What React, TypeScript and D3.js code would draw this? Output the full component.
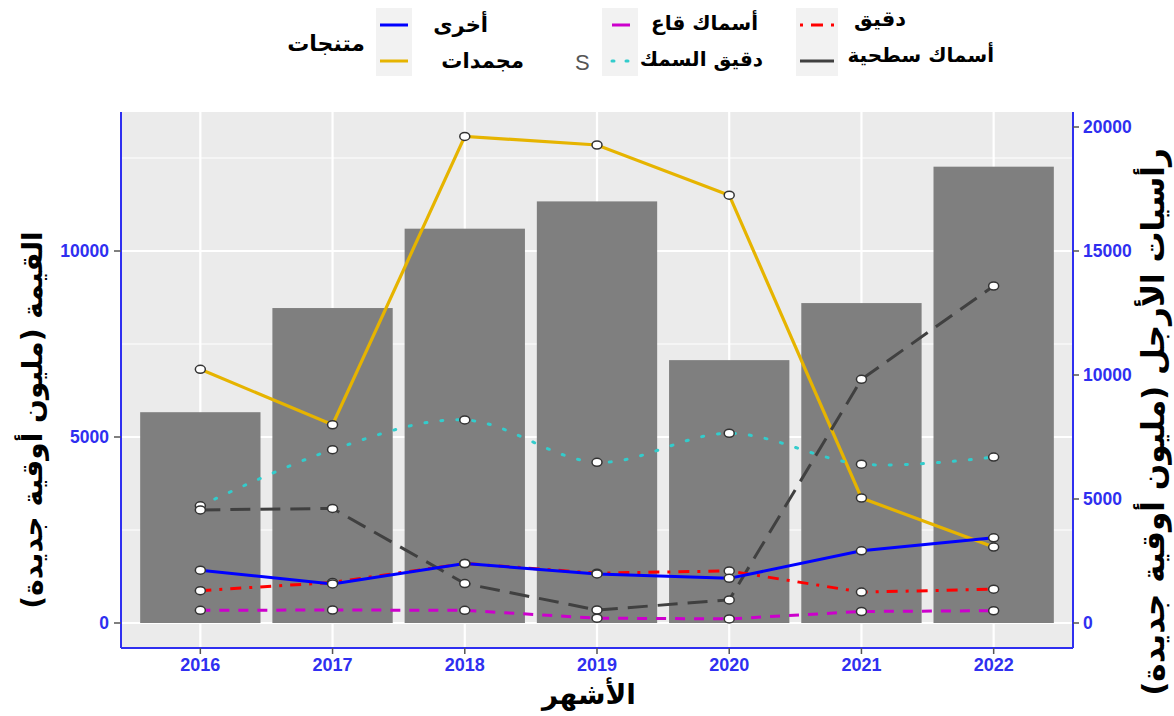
import React from "react";
import * as d3 from "d3";

const years = ["2016", "2017", "2018", "2019", "2020", "2021", "2022"];
const cephalopods = [8500, 12700, 15900, 17000, 10600, 12900, 18400];
const frozen = [6820, 5330, 13080, 12850, 11500, 3360, 2040];
const fishmeal = [3150, 4660, 5460, 4320, 5100, 4270, 4460];
const pelagic = [3040, 3080, 1060, 350, 620, 6550, 9060];
const others = [1420, 1050, 1600, 1320, 1200, 1940, 2290];
const flour = [870, 1090, 1600, 1340, 1400, 830, 910];
const demersal = [340, 350, 340, 130, 110, 310, 330];
const leftTicks = [0, 5000, 10000];
const rightTicks = [0, 5000, 10000, 15000, 20000];

const series = [
  { name: "مجمدات", values: frozen, color: "#E6B400", dash: "", width: 3.2, curve: d3.curveLinear },
  { name: "دقيق السمك", values: fishmeal, color: "#33CCCC", dash: "2,14", width: 3, curve: d3.curveCatmullRom },
  { name: "أسماك سطحية", values: pelagic, color: "#404040", dash: "20,10", width: 3, curve: d3.curveLinear },
  { name: "دقيق", values: flour, color: "#FF0000", dash: "11,8,3,8", width: 3, curve: d3.curveLinear },
  { name: "أخرى", values: others, color: "#0000FF", dash: "", width: 3, curve: d3.curveLinear },
  { name: "أسماك قاع", values: demersal, color: "#CC00CC", dash: "10,9", width: 3, curve: d3.curveLinear },
];

const AR = "'DejaVu Sans', sans-serif";
const NUM = "'Liberation Sans', Arial, sans-serif";

export default function App() {
  const W = 1174, H = 716;
  const left = 121, right = 1073, top = 112, bottom = 648;
  const xp = d3.scalePoint().domain(years).range([left, right]).padding(0.6);
  const step = xp.step();
  const barW = step * 0.91;
  const xc = (yr: string) => xp(yr) as number;
  const yL = d3.scaleLinear().domain([0, 10000]).range([623, 251]);
  const yR = d3.scaleLinear().domain([0, 15000]).range([623, 251]);
  const minor = [2500, 7500, 12500];
  const blue = "#2F2FF0";

  return (
    <svg width={W} height={H} style={{ position: "absolute", left: 0, top: 0, background: "#fff" }}>
      {/* panel */}
      <rect x={left} y={top} width={right - left} height={bottom - top} fill="#EBEBEB" />
      {minor.map((v) => (
        <line key={"m" + v} x1={left} x2={right} y1={yL(v)} y2={yL(v)} stroke="#fff" strokeWidth={1.2} />
      ))}
      {leftTicks.map((v) => (
        <line key={"g" + v} x1={left} x2={right} y1={yL(v)} y2={yL(v)} stroke="#fff" strokeWidth={2.2} />
      ))}
      {years.map((yr) => (
        <line key={"v" + yr} x1={xc(yr)} x2={xc(yr)} y1={top} y2={bottom} stroke="#fff" strokeWidth={2.2} />
      ))}
      {/* bars */}
      {years.map((yr, i) => (
        <rect key={"b" + yr} x={xc(yr) - barW / 2} y={yR(cephalopods[i])} width={barW} height={yR(0) - yR(cephalopods[i])} fill="#7F7F7F" />
      ))}
      {/* lines */}
      {series.map((s) => {
        const line = d3.line<number>().x((_, i) => xc(years[i])).y((d) => yL(d)).curve(s.curve);
        return (
          <path key={s.name} d={line(s.values) || ""} fill="none" stroke={s.color} strokeWidth={s.width}
            strokeDasharray={s.dash || undefined} strokeLinecap={s.dash === "2,14" ? "round" : "butt"} />
        );
      })}
      {series.map((s) =>
        s.values.map((v, i) => (
          <ellipse key={s.name + i} cx={xc(years[i])} cy={yL(v)} rx={5} ry={4} fill="#fff" stroke="#333" strokeWidth={1.5} />
        ))
      )}
      {/* axes */}
      <line x1={left} x2={left} y1={top} y2={bottom} stroke={blue} strokeWidth={2} />
      <line x1={right} x2={right} y1={top} y2={bottom} stroke={blue} strokeWidth={2} />
      <line x1={left} x2={right} y1={bottom} y2={bottom} stroke={blue} strokeWidth={2} />
      {leftTicks.map((v) => (
        <g key={"lt" + v}>
          <line x1={left - 7} x2={left} y1={yL(v)} y2={yL(v)} stroke="#555" strokeWidth={1.5} />
          <text x={left - 12} y={yL(v)} dy="0.36em" textAnchor="end" fontFamily={NUM} fontWeight="bold" fontSize={17.5} fill={blue}>{v}</text>
        </g>
      ))}
      {rightTicks.map((v) => (
        <g key={"rt" + v}>
          <line x1={right} x2={right + 6} y1={yR(v)} y2={yR(v)} stroke="#555" strokeWidth={1.5} />
          <text x={right + 10} y={yR(v)} dy="0.36em" textAnchor="start" fontFamily={NUM} fontWeight="bold" fontSize={17.5} fill={blue}>{v}</text>
        </g>
      ))}
      {years.map((yr) => (
        <g key={"xt" + yr}>
          <line x1={xc(yr)} x2={xc(yr)} y1={bottom} y2={bottom + 6} stroke="#555" strokeWidth={1.5} />
          <text x={xc(yr)} y={bottom + 23} textAnchor="middle" fontFamily={NUM} fontWeight="bold" fontSize={18} fill={blue}>{yr}</text>
        </g>
      ))}
      {/* axis titles */}
      <text x={589} y={704} textAnchor="middle" fontFamily={AR} fontWeight="bold" fontSize={28} fill="#000">الأشهر</text>
      <text transform="translate(42,420) rotate(-90)" textAnchor="middle" fontFamily={AR} fontWeight="bold" fontSize={28} fill="#000">القيمة (مليون أوقية جديدة)</text>
      <text transform="translate(1164,422) rotate(-90)" textAnchor="middle" fontFamily={AR} fontWeight="bold" fontSize={31} fill="#000">رأسيات الأرجل (مليون أوقية جديدة)</text>
      {/* legend */}
      <text x={365} y={51} textAnchor="end" fontFamily={AR} fontWeight="bold" fontSize={22} fill="#000">متنجات</text>
      <rect x={376} y={8} width={36} height={68} fill="#F2F2F2" />
      <line x1={380} x2={408} y1={25} y2={25} stroke="#0000FF" strokeWidth={3} />
      <line x1={380} x2={408} y1={61} y2={61} stroke="#E6B400" strokeWidth={3} />
      <text x={488} y={32} textAnchor="end" fontFamily={AR} fontWeight="bold" fontSize={21} fill="#000">أخرى</text>
      <text x={524} y={68} textAnchor="end" fontFamily={AR} fontWeight="bold" fontSize={21} fill="#000">مجمدات</text>
      <text x={575} y={70} fontFamily={NUM} fontSize={22} fill="#555">S</text>
      <rect x={602} y={8} width={36} height={68} fill="#F2F2F2" />
      <line x1={612} x2={630} y1={25} y2={25} stroke="#CC00CC" strokeWidth={3} />
      <line x1={612} x2={632} y1={61} y2={61} stroke="#33CCCC" strokeWidth={3} strokeDasharray="2,12" strokeLinecap="round" />
      <text x={758} y={30} textAnchor="end" fontFamily={AR} fontWeight="bold" fontSize={20} fill="#000">أسماك قاع</text>
      <text x={763} y={66} textAnchor="end" fontFamily={AR} fontWeight="bold" fontSize={20} fill="#000">دقيق السمك</text>
      <rect x={796} y={8} width={42} height={68} fill="#F2F2F2" />
      <line x1={800} x2={834} y1={25} y2={25} stroke="#FF0000" strokeWidth={3} strokeDasharray="3,8,12,8" />
      <line x1={800} x2={834} y1={61} y2={61} stroke="#404040" strokeWidth={3} />
      <text x={906} y={26} textAnchor="end" fontFamily={AR} fontWeight="bold" fontSize={21} fill="#000">دقيق</text>
      <text x={994} y={62} textAnchor="end" fontFamily={AR} fontWeight="bold" fontSize={20} fill="#000">أسماك سطحية</text>
    </svg>
  );
}
